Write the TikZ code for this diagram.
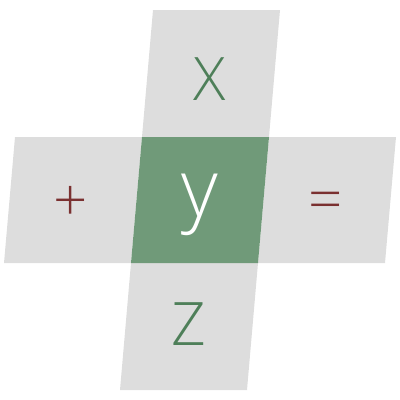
\documentclass[tikz,border=0pt]{standalone}
\usepackage{fontspec}
\setmainfont{Open Sans Light}
\definecolor{cellgray}{RGB}{221,221,221}
\definecolor{cellgreen}{RGB}{112,154,121}
\definecolor{txtgreen}{RGB}{78,127,89}
\definecolor{txtred}{RGB}{122,48,48}
\begin{document}
\begin{tikzpicture}[x=1pt,y=-1pt,
  cell/.style={fill=cellgray},
  hot/.style={fill=cellgreen},
  glyph/.style={inner sep=0pt,font=\fontsize{60}{60}\selectfont},
  bigglyph/.style={inner sep=0pt,font=\fontsize{80}{80}\selectfont}]
\useasboundingbox (0,0) rectangle (400,400);
% cells
\fill[cell] (153,10) -- (280,10) -- (269,137) -- (142,137) -- cycle;
\fill[cell] (15,137) -- (142,137) -- (131,263) -- (4,263) -- cycle;
\fill[cell] (269,137) -- (396,137) -- (385,263) -- (258,263) -- cycle;
\fill[cell] (131,263) -- (258,263) -- (247,390) -- (120,390) -- cycle;
\fill[hot] (142,137) -- (269,137) -- (258,263) -- (131,263) -- cycle;
% labels
\node[glyph,text=txtgreen,anchor=base] (x) at (210,100) {X};
\node[glyph,text=txtgreen,anchor=base] (z) at (188.5,345) {Z};
\node[glyph,text=txtred] (plus) at (71,204) {+};
\node[glyph,text=txtred] (eq) at (326,206) {=};
\node[bigglyph,text=white,anchor=base] (y) at (200,216) {y};
\end{tikzpicture}
\end{document}
